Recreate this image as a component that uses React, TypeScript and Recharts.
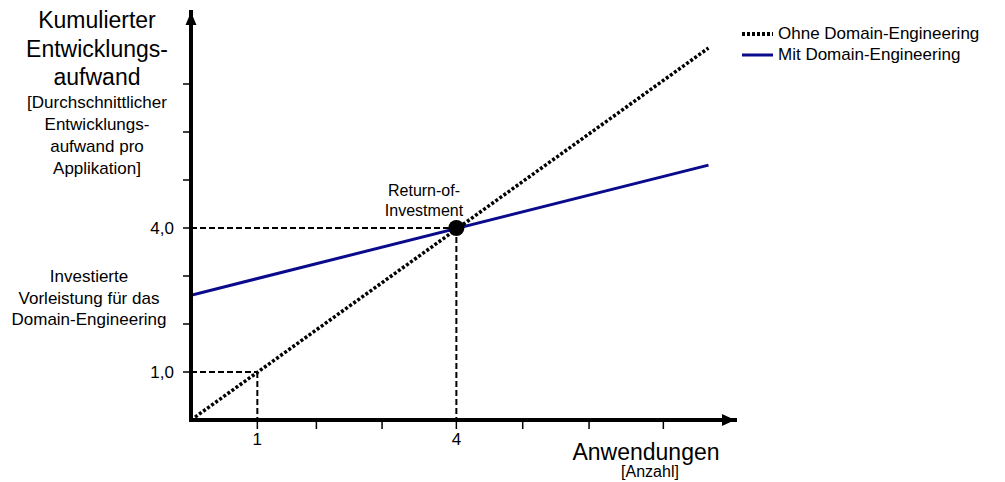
import React from 'react';
import {
  LineChart,
  Line,
  XAxis,
  YAxis,
  ReferenceLine,
  ReferenceDot,
} from 'recharts';

// Kosten-Verlauf (x = Anzahl Anwendungen)
const ohneDomainEngineering = [
  { x: 0, y: 0 },
  { x: 7.8, y: 7.75 },
];
const mitDomainEngineering = [
  { x: 0, y: 2.6 },
  { x: 7.8, y: 5.31 },
];

const xTicks = [1, 1.89, 2.88, 4, 5, 6, 7.12];
const xTickLabels: Record<number, string> = { 1: '1', 4: '4' };
const yTicks = [1, 2, 3, 4, 5, 6, 7];
const yTickLabels: Record<number, string> = { 1: '1,0', 4: '4,0' };

const breakEven = { x: 4, y: 4 };
const guideOne = { x: 1, y: 1 };

const legendItems = [
  { name: 'Ohne Domain-Engineering', color: '#000000', dash: '3 2', width: 4 },
  { name: 'Mit Domain-Engineering', color: '#0a0a8c', dash: undefined, width: 3 },
];

const FONT = '"Liberation Sans", Arial, sans-serif';

const ArrowRight = (props: any) => {
  const { cx, cy } = props;
  return <path d={`M${cx},${cy} L${cx - 13},${cy - 6} L${cx - 13},${cy + 6} Z`} fill="#000" />;
};

const ArrowUp = (props: any) => {
  const { cx, cy } = props;
  return <path d={`M${cx},${cy} L${cx - 5.5},${cy + 13} L${cx + 5.5},${cy + 13} Z`} fill="#000" />;
};

const XTick = (props: any) => {
  const { x, y, payload } = props;
  const label = xTickLabels[payload.value];
  if (!label) return null;
  return (
    <text x={x} y={y + 12} textAnchor="middle" fontFamily={FONT} fontSize={17} fill="#000">
      {label}
    </text>
  );
};

const YTick = (props: any) => {
  const { x, y, payload } = props;
  const label = yTickLabels[payload.value];
  if (!label) return null;
  return (
    <text x={x} y={y + 6} textAnchor="end" fontFamily={FONT} fontSize={17} fill="#000">
      {label}
    </text>
  );
};

export default function App() {
  const small: React.CSSProperties = { fontSize: 17, lineHeight: '22px', color: '#000' };
  return (
    <div style={{ position: 'absolute', left: 0, top: 0, width: 1005, height: 482, background: '#fff', fontFamily: FONT }}>
      <LineChart
        width={1005}
        height={482}
        margin={{ top: 12, right: 270, bottom: 32, left: 131 }}
      >
        <XAxis
          type="number"
          dataKey="x"
          domain={[0, 8.2]}
          ticks={xTicks}
          height={30}
          tickSize={9}
          tickMargin={4}
          tickLine={{ stroke: '#000', strokeWidth: 1.5 }}
          axisLine={{ stroke: '#000', strokeWidth: 4, strokeLinecap: 'square' }}
          tick={<XTick />}
          allowDataOverflow
        />
        <YAxis
          type="number"
          domain={[0, 8.5]}
          ticks={yTicks}
          width={60}
          tickSize={8}
          tickMargin={9}
          tickLine={{ stroke: '#000', strokeWidth: 1.5 }}
          axisLine={{ stroke: '#000', strokeWidth: 4, strokeLinecap: 'square' }}
          tick={<YTick />}
          allowDataOverflow
        />

        {/* gestrichelte Hilfslinien */}
        <ReferenceLine
          segment={[{ x: 0, y: guideOne.y }, { x: guideOne.x, y: guideOne.y }]}
          stroke="#000"
          strokeWidth={2}
          strokeDasharray="6 3"
        />
        <ReferenceLine
          segment={[{ x: guideOne.x, y: guideOne.y }, { x: guideOne.x, y: 0 }]}
          stroke="#000"
          strokeWidth={2}
          strokeDasharray="6 3"
        />
        <ReferenceLine
          segment={[{ x: 0, y: breakEven.y }, { x: breakEven.x, y: breakEven.y }]}
          stroke="#000"
          strokeWidth={2}
          strokeDasharray="6 3"
        />
        <ReferenceLine
          segment={[{ x: breakEven.x, y: breakEven.y }, { x: breakEven.x, y: 0 }]}
          stroke="#000"
          strokeWidth={2}
          strokeDasharray="6 3"
        />

        <Line
          data={mitDomainEngineering}
          dataKey="y"
          type="linear"
          stroke={legendItems[1].color}
          strokeWidth={3}
          dot={false}
          isAnimationActive={false}
        />
        <Line
          data={ohneDomainEngineering}
          dataKey="y"
          type="linear"
          stroke="#000"
          strokeWidth={3.5}
          strokeDasharray="3 2"
          dot={false}
          isAnimationActive={false}
        />

        <ReferenceDot x={breakEven.x} y={breakEven.y} r={8} fill="#000" stroke="none" />
        <ReferenceDot x={8.2} y={0} shape={ArrowRight} ifOverflow="visible" />
        <ReferenceDot x={0} y={8.5} shape={ArrowUp} ifOverflow="visible" />
      </LineChart>

      {/* Achsentitel Y */}
      <div style={{ position: 'absolute', left: 0, top: 6, width: 194, textAlign: 'center' }}>
        <div style={{ fontSize: 23, lineHeight: '28.5px' }}>
          Kumulierter<br />Entwicklungs-<br />aufwand
        </div>
        <div style={small}>
          [Durchschnittlicher<br />Entwicklungs-<br />aufwand pro<br />Applikation]
        </div>
      </div>

      <div style={{ position: 'absolute', left: 0, top: 266, width: 178, textAlign: 'center', ...small, lineHeight: '21.5px' }}>
        Investierte<br />Vorleistung für das<br />Domain-Engineering
      </div>

      <div style={{ position: 'absolute', left: 364, top: 181, width: 120, textAlign: 'center', ...small, fontSize: 16, lineHeight: '20px' }}>
        Return-of-<br />Investment
      </div>

      {/* Achsentitel X */}
      <div style={{ position: 'absolute', left: 546, top: 438, width: 200, textAlign: 'center', fontSize: 23, lineHeight: '28px' }}>
        Anwendungen
      </div>
      <div style={{ position: 'absolute', left: 600, top: 463, width: 100, textAlign: 'center', fontSize: 16, lineHeight: '18px' }}>
        [Anzahl]
      </div>

      {/* Legende */}
      <div style={{ position: 'absolute', left: 742, top: 23, fontSize: 17 }}>
        {legendItems.map((item) => (
          <div key={item.name} style={{ display: 'flex', alignItems: 'center', height: 21 }}>
            <svg width={31} height={10} style={{ marginRight: 5 }}>
              <line
                x1={0}
                y1={5}
                x2={31}
                y2={5}
                stroke={item.color}
                strokeWidth={item.width}
                strokeDasharray={item.dash}
              />
            </svg>
            <span>{item.name}</span>
          </div>
        ))}
      </div>
    </div>
  );
}
